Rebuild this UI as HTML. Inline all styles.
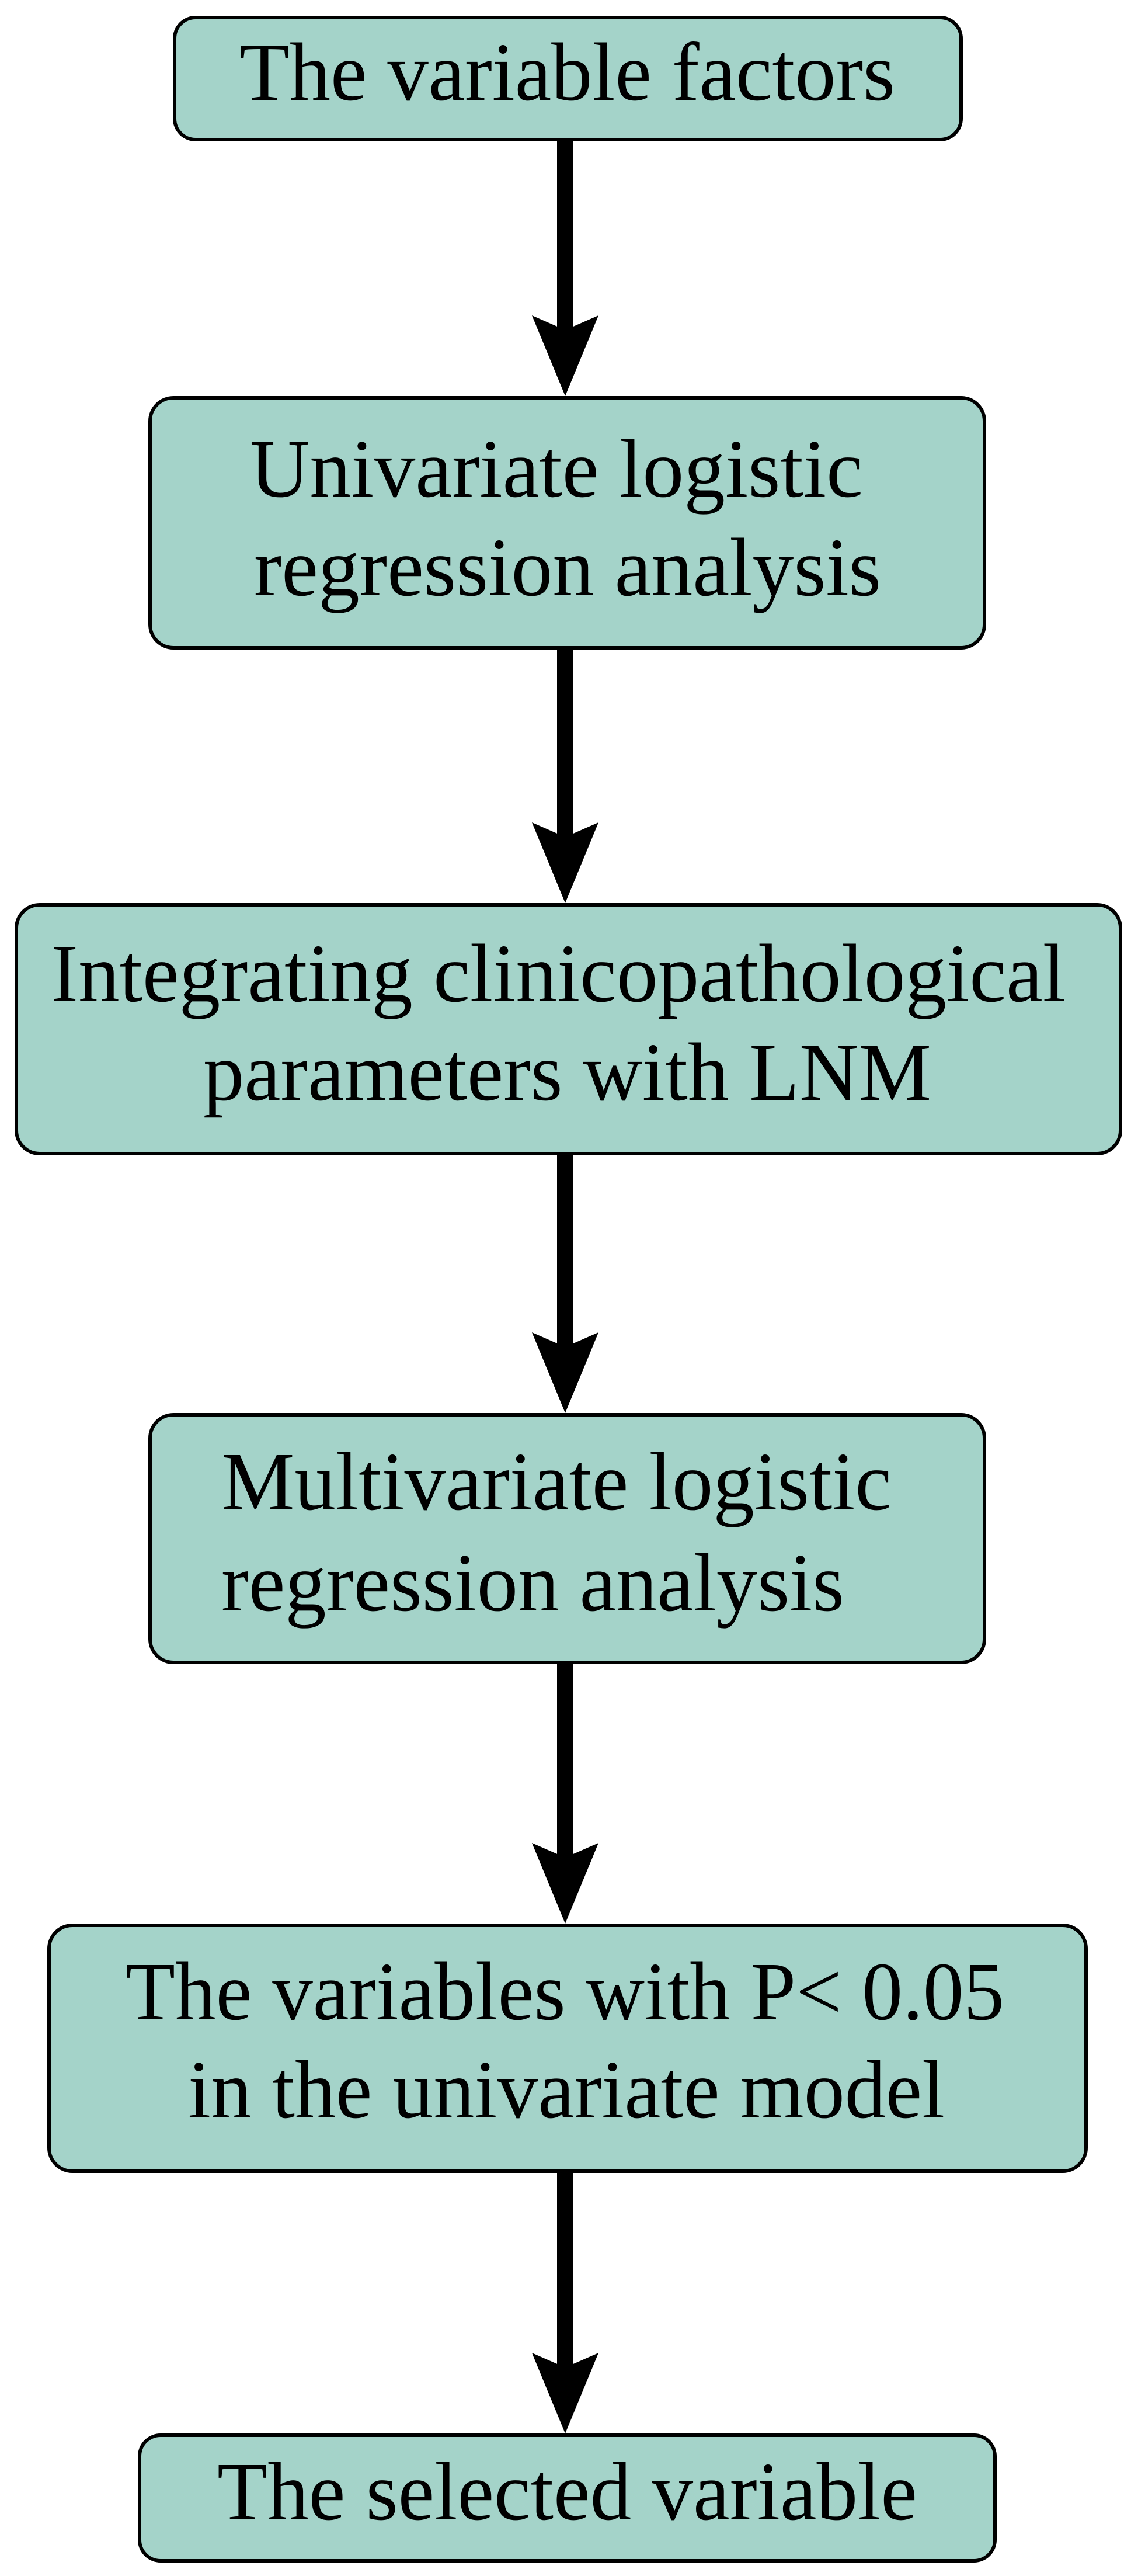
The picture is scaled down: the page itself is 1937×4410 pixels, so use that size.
<!DOCTYPE html>
<html><head><meta charset="utf-8"><style>
html,body{margin:0;padding:0;background:#fff;}
svg{display:block;}
text{font-family:"Liberation Serif",serif;font-size:142px;fill:#000;}
</style></head><body>
<svg width="1937" height="4410" viewBox="0 0 1937 4410" xmlns="http://www.w3.org/2000/svg">
<g fill="#a4d3c9" stroke="#000" stroke-width="6">
<rect x="299" y="30" width="1347" height="209" rx="36"/>
<rect x="257" y="681" width="1429" height="428" rx="40"/>
<rect x="28" y="1549" width="1891" height="426" rx="40"/>
<rect x="257" y="2422" width="1429" height="424" rx="40"/>
<rect x="84" y="3296" width="1776" height="421" rx="40"/>
<rect x="239" y="4169" width="1465" height="215" rx="36"/>
</g>
<g fill="#000">
<rect x="954" y="242" width="28" height="325"/>
<polygon points="911,540 968,565 1025,540 968,678"/>
<rect x="954" y="1112" width="28" height="323"/>
<polygon points="911,1408 968,1433 1025,1408 968,1546"/>
<rect x="954" y="1978" width="28" height="331"/>
<polygon points="911,2281 968,2306 1025,2281 968,2419"/>
<rect x="954" y="2849" width="28" height="333"/>
<polygon points="911,3155 968,3180 1025,3155 968,3293"/>
<rect x="954" y="3720" width="28" height="335"/>
<polygon points="911,4028 968,4053 1025,4028 968,4166"/>
</g>
<text x="410" y="171" textLength="1123" lengthAdjust="spacingAndGlyphs">The variable factors</text>
<text x="428" y="850" textLength="1050" lengthAdjust="spacingAndGlyphs">Univariate logistic</text>
<text x="435" y="1019" textLength="1074" lengthAdjust="spacingAndGlyphs">regression analysis</text>
<text x="87" y="1714" textLength="1738" lengthAdjust="spacingAndGlyphs">Integrating clinicopathological</text>
<text x="348" y="1883" textLength="1247" lengthAdjust="spacingAndGlyphs">parameters with LNM</text>
<text x="379" y="2584" textLength="1148" lengthAdjust="spacingAndGlyphs">Multivariate logistic</text>
<text x="379" y="2757" textLength="1067" lengthAdjust="spacingAndGlyphs">regression analysis</text>
<text x="215" y="3457" textLength="1505" lengthAdjust="spacingAndGlyphs">The variables with P&lt; 0.05</text>
<text x="322" y="3625" textLength="1296" lengthAdjust="spacingAndGlyphs">in the univariate model</text>
<text x="372" y="4313" textLength="1199" lengthAdjust="spacingAndGlyphs">The selected variable</text>
</svg>
</body></html>
